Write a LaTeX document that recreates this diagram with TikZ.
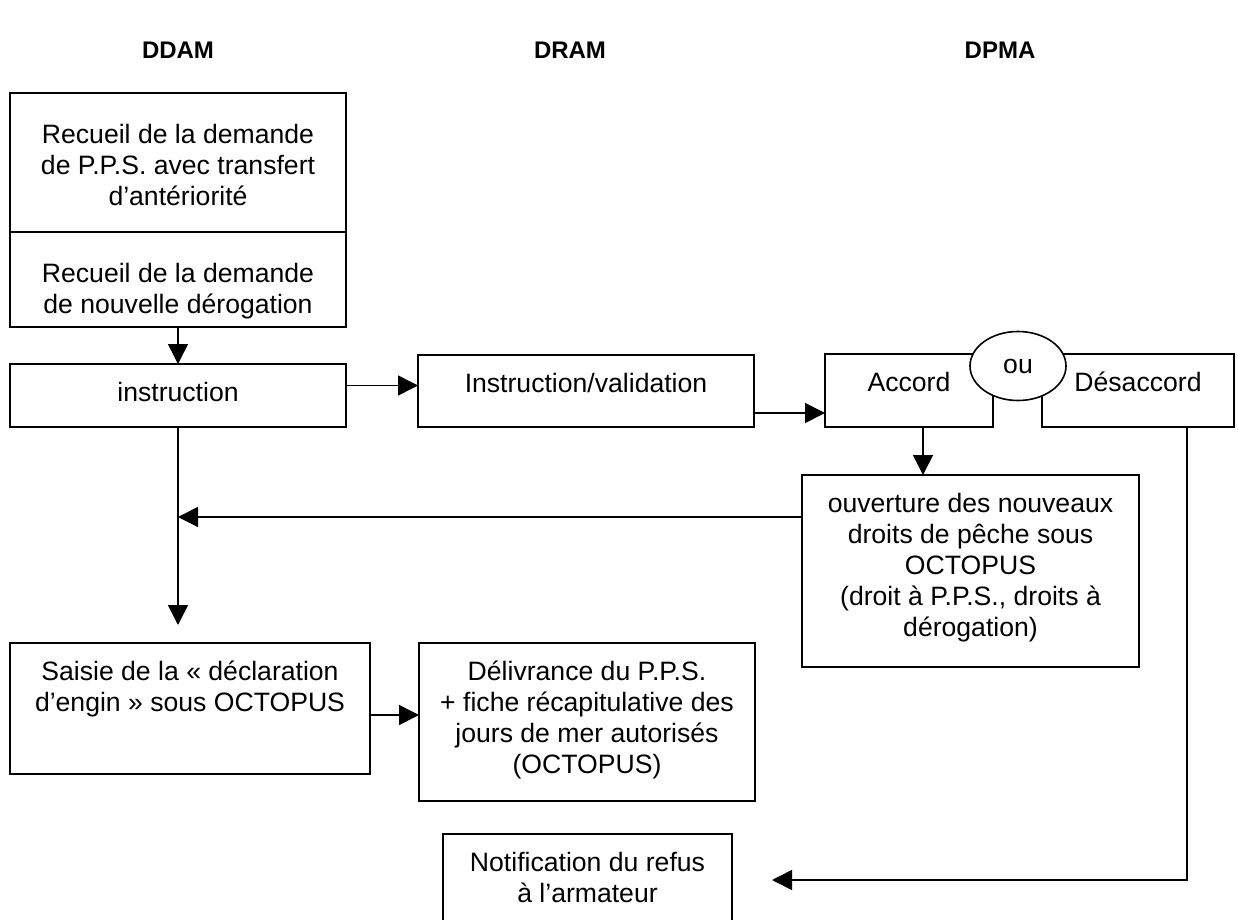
\documentclass[tikz,border=0pt]{standalone}
\usepackage{fontspec}
\setmainfont{Liberation Sans}
\usetikzlibrary{arrows.meta,positioning,shapes.geometric}

\begin{document}
\begin{tikzpicture}[
  x=0.5pt, y=-0.5pt,
  every node/.style={font=\fontsize{13.3}{15.5}\selectfont},
  head/.style={font=\fontsize{12}{14}\selectfont\bfseries},
  box/.style={draw, line width=1pt, fill=white, anchor=north west, inner sep=0pt, outer sep=0pt},
  txt/.style={align=center, anchor=north, inner sep=0pt, yshift=-9pt},
  ouo/.style={draw, ellipse, line width=0.8pt, fill=white, minimum width=48pt,
              minimum height=34.5pt, inner sep=0pt},
  arr/.style={-{Triangle[length=10pt, width=10pt]}, line width=0.8pt}
]
\useasboundingbox (0,0) rectangle (1238,920);

% column titles
\node[head] (ddam) at (178,50) {DDAM};
\node[head] (dram) at (570,50) {DRAM};
\node[head] (dpma) at (1000,50) {DPMA};

% DDAM column
\node[box, minimum width=168pt, minimum height=69.5pt,
  label={[txt, yshift=-6.5pt]north:{Recueil de la demande\\de P.P.S. avec transfert\\d’antériorité}}] (recA) at (10,93) {};
\node[box, below=0pt of recA, minimum width=168pt, minimum height=47.5pt,
  label={[txt, yshift=-6.5pt]north:{Recueil de la demande\\de nouvelle dérogation}}] (recB) {};
\node[box, below=18.5pt of recB, minimum width=168pt, minimum height=31.5pt,
  label={[txt]north:{instruction}}] (instr) {};

% DRAM column
\node[box, minimum width=168pt, minimum height=36pt,
  label={[txt]north:{Instruction/validation}}] (valid) at (418,355) {};

% DPMA column
\node[box, minimum width=84pt, minimum height=36.5pt,
  label={[txt]north:{Accord}}] (accord) at (825,354) {};
\node[box, right=24.5pt of accord, minimum width=96pt, minimum height=36.5pt,
  label={[txt]north:{Désaccord}}] (desacc) {};
\node[ouo] (ou) at (1018,366) {ou};
\node[box, minimum width=168.5pt, minimum height=96pt,
  label={[txt]north:{ouverture des nouveaux\\droits de pêche sous\\OCTOPUS\\(droit à P.P.S., droits à\\dérogation)}}] (ouv) at (802,475) {};

% bottom row
\node[box, minimum width=180pt, minimum height=65.5pt,
  label={[txt]north:{Saisie de la « déclaration\\d’engin » sous OCTOPUS}}] (saisie) at (10,643) {};
\node[box, right=24.5pt of saisie.north east, anchor=north west, minimum width=168pt, minimum height=79pt,
  label={[txt]north:{Délivrance du P.P.S.\\+ fiche récapitulative des\\jours de mer autorisés\\(OCTOPUS)}}] (deliv) {};
\node[box, minimum width=144.5pt, minimum height=55pt,
  label={[txt]north:{Notification du refus\\à l’armateur}}] (notif) at (443,834) {};

\coordinate (mid) at (178,517);
\coordinate (drop) at (178,625);
\coordinate (turn) at (1187,880);
\coordinate (refus) at (772,880);

\draw[arr] (recB.south) -- (instr.north);
\draw[arr] ([yshift=5pt]instr.east) -- ([yshift=5pt]instr.east -| valid.west);
\draw[arr] ([yshift=-11pt]valid.east) -- ([yshift=-11pt]valid.east -| accord.west);
\draw[arr] ([xshift=7pt]accord.south) -- ([xshift=7pt]accord.south |- ouv.north);
\draw[arr] (ouv.west |- mid) -- (mid);
\draw[arr] (instr.south) -- (drop);
\draw[arr] ([yshift=-3.25pt]saisie.east) -- ([yshift=-3.25pt]saisie.east -| deliv.west);
\draw[arr] (desacc.south -| turn) -- (turn) -- (refus);
\end{tikzpicture}
\end{document}
